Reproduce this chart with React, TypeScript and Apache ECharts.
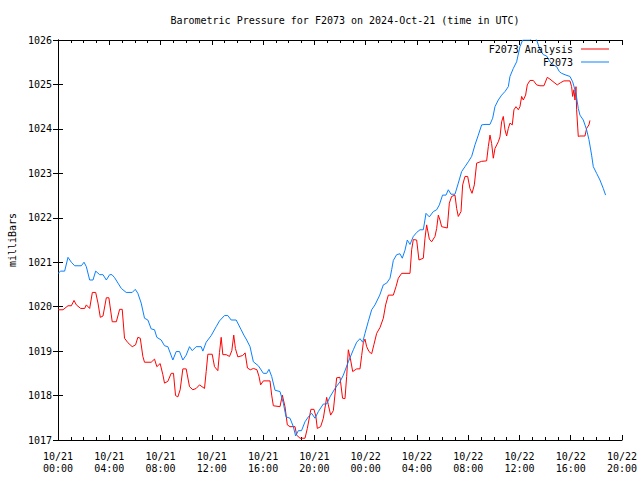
import React, { useEffect, useRef } from "react";
import * as echarts from "echarts";

// Hours since 2024-10-21 00:00 UTC
const analysisHours = [
  0, 0.39, 0.78, 1.04, 1.25, 1.43, 1.77, 2.08, 2.21, 2.47, 2.68, 2.94, 3.12, 3.3, 3.51, 3.77, 3.97, 4.23, 4.55, 4.81,
  5.01, 5.19, 5.45, 5.79, 6.05, 6.23, 6.42, 6.62, 6.75, 7.27, 7.53, 7.71, 7.97, 8.18, 8.31, 8.57, 8.83, 9.01, 9.17, 9.35,
  9.53, 9.74, 10.0, 10.26, 10.52, 10.78, 11.04, 11.43, 11.56, 11.69, 12.03, 12.21, 12.47, 12.6, 12.73, 12.86, 13.12, 13.38, 13.56, 13.71,
  13.84, 14.03, 14.4, 14.6, 14.78, 15.0, 15.25, 15.52, 15.68, 15.81, 16.02, 16.54, 16.67, 16.8, 17.32, 17.5, 17.71, 17.89, 18.1, 18.49,
  18.62, 18.88, 19.27, 19.45, 19.73, 19.97, 20.12, 20.23, 20.49, 20.7, 20.96, 21.09, 21.27, 21.48, 21.74, 22.0, 22.2, 22.39, 22.52, 22.65,
  22.83, 22.99, 23.3, 23.56, 23.69, 23.82, 23.95, 24.08, 24.26, 24.47, 24.65, 24.86, 25.12, 25.38, 25.56, 25.77, 26.16, 26.37, 26.55, 26.81,
  27.46, 27.59, 27.72, 27.98, 28.16, 28.5, 28.63, 28.76, 28.97, 29.15, 29.41, 29.54, 29.67, 29.8, 29.93, 30.37, 30.53, 30.71, 30.97, 31.1,
  31.23, 31.44, 31.57, 31.75, 31.96, 32.14, 32.3, 32.48, 32.66, 33.05, 33.44, 33.57, 33.7, 33.83, 33.96, 34.09, 34.35, 34.48, 34.61, 34.74,
  34.87, 35.0, 35.13, 35.26, 35.44, 35.57, 35.73, 35.91, 36.04, 36.17, 36.3, 36.48, 36.61, 36.82, 37.08, 37.34, 37.6, 37.91, 38.17, 38.38,
  38.77, 38.95, 39.21, 39.47, 39.94, 40.07, 40.15, 40.25, 40.33, 40.41, 40.46, 40.59, 40.72, 41.11, 41.24, 41.42, 41.5,
];
const analysisValues = [
  1019.93, 1019.93, 1020.02, 1020.02, 1020.14, 1020.04, 1019.96, 1019.96, 1020.04, 1019.96, 1020.32, 1020.32, 1020.08, 1019.76, 1019.79, 1020.2, 1020.2, 1019.66, 1019.66, 1019.94,
  1019.94, 1019.29, 1019.19, 1019.1, 1019.14, 1019.31, 1019.29, 1018.88, 1018.75, 1018.75, 1018.82, 1018.65, 1018.72, 1018.47, 1018.28, 1018.32, 1018.5, 1018.5, 1018.0, 1017.97,
  1018.13, 1018.6, 1018.6, 1018.2, 1018.13, 1018.16, 1018.24, 1018.16, 1018.54, 1018.93, 1018.93, 1018.65, 1018.56, 1018.97, 1019.31, 1018.92, 1018.92, 1018.88, 1019.01, 1019.36,
  1019.06, 1018.87, 1018.9, 1018.96, 1018.62, 1018.58, 1018.61, 1018.58, 1018.43, 1018.24, 1018.33, 1018.33, 1018.01, 1017.77, 1017.75, 1018.01, 1017.75, 1017.34, 1017.3, 1017.3,
  1017.11, 1017.04, 1017.04, 1017.26, 1017.69, 1017.69, 1017.53, 1017.26, 1017.3, 1017.49, 1017.96, 1017.79, 1017.56, 1017.66, 1018.4, 1018.41, 1017.94, 1017.93, 1018.43, 1019.03,
  1018.8, 1018.54, 1018.6, 1018.6, 1018.9, 1019.19, 1019.27, 1019.1, 1018.99, 1018.94, 1019.15, 1019.4, 1019.53, 1019.74, 1020.04, 1020.26, 1020.26, 1020.45, 1020.64, 1020.75,
  1020.75, 1021.28, 1021.51, 1021.5, 1021.05, 1021.09, 1021.54, 1021.84, 1021.52, 1021.46, 1021.58, 1021.76, 1022.06, 1021.95, 1021.8, 1021.77, 1022.33, 1022.48, 1022.51, 1022.21,
  1022.03, 1022.14, 1022.74, 1022.93, 1022.93, 1022.66, 1022.55, 1022.74, 1023.23, 1023.27, 1023.28, 1023.6, 1023.86, 1023.67, 1023.34, 1023.56, 1023.71, 1023.82, 1024.16, 1024.28,
  1023.98, 1023.84, 1024.01, 1024.13, 1024.09, 1024.43, 1024.5, 1024.43, 1024.5, 1024.73, 1024.65, 1024.76, 1024.99, 1025.09, 1025.09, 1024.99, 1024.97, 1024.97, 1025.16, 1025.12,
  1025.03, 1024.99, 1025.04, 1025.08, 1025.08, 1024.95, 1024.73, 1024.88, 1024.65, 1024.95, 1024.43, 1023.83, 1023.84, 1023.84, 1024.01, 1024.09, 1024.19,
];

const stationHours = [
  0, 0.21, 0.52, 0.78, 1.04, 1.3, 1.82, 2.03, 2.21, 2.47, 2.73, 2.94, 3.25, 3.51, 3.77, 4.03, 4.21, 4.42, 4.68, 4.94,
  5.32, 5.79, 6.03, 6.23, 6.49, 6.75, 7.01, 7.27, 7.53, 7.71, 8.05, 8.31, 8.57, 8.96, 9.22, 9.48, 9.74, 10.0, 10.26, 10.47,
  10.78, 11.17, 11.3, 11.56, 11.95, 12.34, 12.6, 12.99, 13.25, 13.51, 13.9, 14.29, 14.5, 14.72, 14.98, 15.24, 15.63, 16.02, 16.28, 16.46,
  16.67, 16.93, 17.32, 17.58, 17.79, 18.1, 18.36, 18.54, 18.75, 19.0, 19.27, 19.53, 19.79, 20.05, 20.31, 20.7, 20.96, 21.22, 21.61, 22.0,
  22.26, 22.65, 23.04, 23.3, 23.56, 23.77, 23.95, 24.2, 24.47, 24.73, 25.1, 25.38, 25.64, 25.9, 26.03, 26.16, 26.42, 26.68, 26.86, 27.07,
  27.25, 27.46, 27.72, 27.98, 28.24, 28.5, 28.71, 28.97, 29.28, 29.54, 29.75, 30.0, 30.27, 30.45, 30.66, 30.97, 31.23, 31.49, 31.75, 32.01,
  32.27, 32.53, 32.79, 33.05, 33.31, 33.7, 33.91, 34.09, 34.35, 34.61, 34.87, 35.13, 35.26, 35.52, 35.78, 36.04, 36.25, 36.82, 37.13, 37.34,
  37.6, 37.86, 38.12, 38.38, 38.64, 38.9, 39.11, 39.29, 39.63, 39.94, 40.15, 40.41, 40.59, 40.72, 40.98, 41.24, 41.42, 41.63, 41.76, 42.02,
  42.28, 42.54, 42.72,
];
const stationValues = [
  1020.75, 1020.8, 1020.8, 1021.11, 1021.0, 1020.92, 1020.92, 1021.0, 1020.9, 1020.6, 1020.6, 1020.8, 1020.72, 1020.72, 1020.6, 1020.72, 1020.72, 1020.65, 1020.53, 1020.41,
  1020.32, 1020.32, 1020.39, 1020.3, 1020.08, 1019.74, 1019.7, 1019.5, 1019.48, 1019.31, 1019.25, 1019.12, 1019.1, 1018.8, 1018.99, 1018.99, 1018.8, 1018.91, 1019.1, 1019.01,
  1019.1, 1019.1, 1019.0, 1019.2, 1019.35, 1019.55, 1019.68, 1019.8, 1019.8, 1019.7, 1019.7, 1019.48, 1019.36, 1019.25, 1019.1, 1018.76, 1018.67, 1018.5, 1018.5, 1018.59,
  1018.43, 1018.12, 1018.09, 1017.83, 1017.52, 1017.49, 1017.3, 1017.09, 1017.21, 1017.21, 1017.41, 1017.52, 1017.6, 1017.49, 1017.64, 1017.81, 1017.81, 1017.97, 1018.16, 1018.31,
  1018.46, 1018.76, 1019.03, 1019.2, 1019.28, 1019.2, 1019.4, 1019.66, 1019.93, 1020.04, 1020.26, 1020.49, 1020.53, 1020.64, 1020.83, 1021.04, 1021.17, 1021.19, 1021.09, 1021.27,
  1021.5, 1021.4, 1021.58, 1021.67, 1021.73, 1021.73, 1022.1, 1022.02, 1022.14, 1022.18, 1022.29, 1022.51, 1022.51, 1022.63, 1022.53, 1022.53, 1022.78, 1023.04, 1023.15, 1023.26,
  1023.38, 1023.64, 1023.86, 1024.09, 1024.1, 1024.1, 1024.24, 1024.5, 1024.65, 1024.76, 1024.84, 1024.95, 1025.18, 1025.36, 1025.51, 1025.85, 1026.0, 1026.0, 1026.08, 1026.0,
  1025.78, 1025.67, 1025.64, 1025.51, 1025.44, 1025.4, 1025.29, 1025.25, 1025.21, 1025.18, 1025.06, 1024.8, 1024.46, 1024.31, 1024.2, 1023.98, 1023.76, 1023.41, 1023.15, 1023.0,
  1022.85, 1022.66, 1022.51,
];

const seriesNames = ["F2073 Analysis", "F2073"];
const seriesColors = ["#ff0000", "#0a80ff"];
const titleText = "Barometric Pressure for F2073 on 2024-Oct-21 (time in UTC)";
const yAxisName = "milliBars";

const FONT = "'DejaVu Sans Mono', 'Liberation Mono', monospace";

function hourLabel(h: number): string {
  const day = 21 + Math.floor(h / 24);
  const hh = Math.round(h % 24);
  return `10/${day}\n${hh < 10 ? "0" + hh : hh}:00`;
}

export default function App() {
  const ref = useRef<HTMLDivElement>(null);
  useEffect(() => {
    if (!ref.current) return;
    const chart = echarts.init(ref.current, undefined, { renderer: "svg" });
    const pairs = (hs: number[], vs: number[]) => hs.map((h, i) => [h, vs[i]]);
    const xCommon = {
      type: "value" as const,
      min: 0,
      max: 44,
      interval: 4,
      splitLine: { show: false },
      axisLine: { show: true, lineStyle: { color: "#000", width: 1 } },
      axisTick: { show: true, inside: true, length: 5, lineStyle: { color: "#000" } },
      minorTick: { show: true, splitNumber: 4, length: 3, lineStyle: { color: "#000" } },
    };
    const yCommon = {
      type: "value" as const,
      min: 1017,
      max: 1026,
      interval: 1,
      splitLine: { show: false },
      axisLine: { show: true, lineStyle: { color: "#000", width: 1 } },
      axisTick: { show: true, inside: true, length: 5, lineStyle: { color: "#000" } },
    };
    chart.setOption({
      animation: false,
      backgroundColor: "#fff",
      title: {
        text: titleText,
        left: 340,
        textAlign: "center",
        top: 10,
        textStyle: { fontFamily: FONT, fontSize: 10, fontWeight: "normal", color: "#000" },
      },
      legend: {
        orient: "vertical",
        right: 26,
        top: 39,
        align: "right",
        icon: "rect",
        itemWidth: 28,
        itemHeight: 1,
        itemGap: 3,
        textStyle: { fontFamily: FONT, fontSize: 10, color: "#000", padding: [0, 3, 0, 0] },
        data: seriesNames,
      },
      grid: { left: 58, right: 18, top: 40, bottom: 40, containLabel: false, outerBoundsMode: "none" },
      xAxis: [
        {
          ...xCommon,
          position: "bottom",
          axisLabel: {
            show: true,
            margin: 10,
            fontFamily: FONT,
            fontSize: 10,
            color: "#000",
            lineHeight: 12,
            formatter: (v: number) => hourLabel(v),
          },
        },
        { ...xCommon, position: "top", axisLabel: { show: false } },
      ],
      yAxis: [
        {
          ...yCommon,
          position: "left",
          name: yAxisName,
          nameLocation: "middle",
          nameGap: 41,
          nameRotate: 90,
          nameTextStyle: { fontFamily: FONT, fontSize: 10, color: "#000" },
          axisLabel: {
            show: true,
            margin: 6,
            fontFamily: FONT,
            fontSize: 10,
            color: "#000",
            formatter: (v: number) => String(v),
          },
        },
        { ...yCommon, position: "right", axisLabel: { show: false } },
      ],
      series: [
        {
          name: seriesNames[0],
          type: "line",
          data: pairs(analysisHours, analysisValues),
          symbol: "none",
          color: seriesColors[0],
          lineStyle: { width: 1, color: seriesColors[0] },
          xAxisIndex: 0,
          yAxisIndex: 0,
        },
        {
          name: seriesNames[1],
          type: "line",
          data: pairs(stationHours, stationValues),
          symbol: "none",
          color: seriesColors[1],
          lineStyle: { width: 1, color: seriesColors[1] },
          xAxisIndex: 0,
          yAxisIndex: 0,
        },
      ],
    });
    return () => chart.dispose();
  }, []);
  return (
    <div
      ref={ref}
      style={{ position: "absolute", left: 0, top: 0, width: 640, height: 480, background: "#fff" }}
    />
  );
}
